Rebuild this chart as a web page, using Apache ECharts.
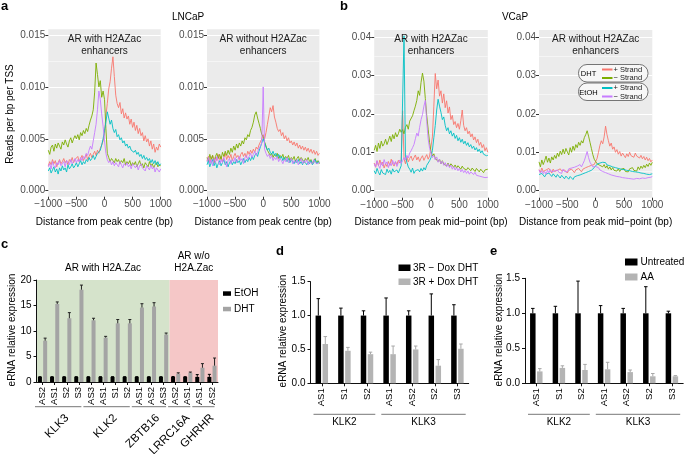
<!DOCTYPE html>
<html><head><meta charset="utf-8">
<script src="https://cdn.jsdelivr.net/npm/echarts@6/dist/echarts.min.js"></script>
<style>html,body{margin:0;padding:0;background:#fff}#c{width:685px;height:454px}</style>
</head><body><div id="c"></div>
<script>
// ---------- DATA (line panels: reads per bp per TSS, in units of 1e-3) ----------
const distance = [
-1000,-975,-950,-925,-900,-875,-850,-825,-800,-775,
-750,-725,-700,-675,-650,-625,-600,-575,-550,-525,
-500,-475,-450,-425,-400,-375,-350,-325,-300,-275,
-250,-225,-200,-175,-150,-125,-100,-75,-50,-25,
0,25,50,75,100,125,150,175,200,225,
250,275,300,325,350,375,400,425,450,475,
500,525,550,575,600,625,650,675,700,725,
750,775,800,825,850,875,900,925,950,975,
1000];
const xTicks = [-1000,-500,0,500,1000];

// LNCaP, AR with H2AZac enhancers
const lncapWithDhtPlus = [
2.4,2.8,2.5,3.0,2.6,2.9,2.3,2.7,3.0,2.6,
2.8,3.1,2.7,2.9,2.5,3.0,2.8,3.2,2.7,3.0,
2.9,3.3,2.8,3.1,3.4,2.9,3.2,3.5,3.0,3.3,
3.6,3.2,3.5,3.8,3.4,3.9,3.6,4.1,4.4,4.8,
5.5,7.2,8.4,9.8,10.5,11.8,12.9,11.0,9.2,8.4,
8.0,8.5,7.4,7.9,7.0,7.5,6.9,7.2,6.4,6.9,
6.1,6.6,5.8,6.3,5.5,6.0,5.3,5.6,4.8,5.3,
4.7,5.0,4.3,4.8,4.0,4.5,3.7,4.2,3.9,4.5,
4.2];
const lncapWithDhtMinus = [
3.9,3.5,4.2,4.4,3.8,4.5,4.1,4.6,4.3,4.0,
4.7,4.4,4.9,4.5,4.2,4.8,5.1,4.6,5.0,5.3,
5.0,5.4,4.9,5.6,5.3,5.8,5.5,6.0,5.7,6.3,
6.8,7.2,7.8,9.5,12.3,11.2,10.0,10.6,9.0,9.6,
8.8,6.0,3.6,3.2,2.8,3.1,2.9,2.7,3.1,2.8,
3.0,2.6,2.9,2.7,3.1,2.5,2.8,2.6,2.9,2.4,
2.7,2.5,2.8,2.3,2.6,2.9,2.4,2.6,2.2,2.7,
2.5,2.3,2.8,2.4,2.6,2.2,2.5,2.7,2.3,2.5,
2.4];
const lncapWithEtohPlus = [
1.9,2.2,1.7,2.0,2.3,1.8,2.1,1.6,2.2,1.9,
2.4,2.0,2.2,1.8,2.5,2.1,2.3,2.6,2.2,2.4,
2.7,2.3,2.6,2.9,2.5,2.8,2.6,3.0,2.8,3.2,
2.9,3.1,3.4,3.0,3.3,3.6,3.5,3.9,4.4,5.0,
5.8,6.6,7.6,7.0,6.4,6.8,6.0,5.6,5.9,5.2,
5.4,4.9,5.1,4.6,4.8,4.3,4.5,4.1,4.3,3.9,
4.0,3.7,3.9,3.5,3.7,3.3,3.5,3.1,3.4,3.0,
3.2,2.9,3.1,2.7,3.0,2.6,2.9,2.5,2.8,2.4,
2.6];
const lncapWithEtohMinus = [
2.3,2.6,2.1,2.8,2.4,2.2,2.7,2.5,2.9,2.4,
2.6,2.8,2.3,2.9,2.7,2.5,3.0,2.6,2.8,3.1,
2.7,3.0,2.8,3.2,2.9,3.3,3.1,3.6,3.4,3.9,
4.3,4.0,4.8,5.6,6.4,7.8,9.6,8.8,7.4,6.2,
4.8,3.6,3.0,2.7,2.9,2.5,2.8,2.4,2.7,2.6,
2.3,2.8,2.5,2.2,2.6,2.4,2.7,2.3,2.5,2.1,
2.6,2.4,2.2,2.5,2.0,2.4,2.6,2.2,2.3,1.9,
2.4,2.2,2.0,2.5,2.1,2.3,1.8,2.2,2.0,1.8,
2.1];

// LNCaP, AR without H2AZac enhancers
const lncapWithoutDhtPlus = [
2.9,3.3,2.7,3.1,3.4,2.8,3.2,2.9,3.5,3.0,
3.3,2.8,3.2,3.6,3.0,3.4,3.1,3.5,2.9,3.3,
3.6,3.2,3.4,3.0,3.5,3.7,3.3,3.6,3.2,3.8,
3.5,3.9,3.6,4.0,3.7,4.2,4.0,4.4,4.7,5.0,
5.4,5.0,5.6,6.4,7.2,8.0,7.6,8.2,7.1,6.6,
6.0,5.7,5.9,5.3,5.6,5.0,5.3,4.8,5.1,4.6,
4.8,4.4,4.7,4.3,4.6,4.1,4.4,4.0,4.3,3.9,
4.2,3.8,4.1,3.7,4.0,3.6,3.9,3.5,3.8,3.4,
3.6];
const lncapWithoutDhtMinus = [
3.2,2.8,3.5,3.0,3.4,2.7,3.3,3.6,3.1,3.5,
3.0,3.7,3.3,3.8,3.4,3.9,3.5,4.1,3.7,4.3,
3.9,4.5,4.1,4.6,4.3,4.8,4.5,5.1,4.9,5.4,
5.2,5.8,6.1,6.6,7.3,7.6,7.0,6.5,6.0,5.4,
5.2,4.7,4.3,3.9,3.8,3.4,3.6,3.2,3.5,3.3,
3.6,3.1,3.4,3.2,3.5,3.0,3.3,3.1,3.4,2.9,
3.2,3.0,3.3,2.8,3.1,3.3,2.9,3.2,3.0,2.7,
3.1,2.9,3.2,2.8,3.0,2.6,2.9,3.1,2.7,2.9,
2.6];
const lncapWithoutEtohPlus = [
2.5,2.9,2.3,2.7,3.0,2.4,2.8,2.2,2.6,2.9,
2.4,2.7,3.0,2.5,2.8,2.3,2.7,2.9,2.5,2.8,
2.6,3.0,2.7,2.9,2.5,2.8,3.1,2.7,3.0,2.8,
3.2,2.9,3.3,3.0,3.4,3.6,3.3,3.8,4.2,4.6,
5.0,4.6,4.2,3.9,4.1,3.7,3.5,3.8,3.4,3.6,
3.2,3.5,3.1,3.3,2.9,3.2,3.0,2.8,3.1,2.7,
3.0,2.8,2.6,2.9,2.7,3.0,2.6,2.8,2.5,2.9,
2.7,2.5,2.8,2.6,2.9,2.5,2.7,3.0,2.6,2.8,
2.7];
const lncapWithoutEtohMinus = [
2.8,3.2,2.6,3.0,2.4,3.1,2.7,3.3,2.9,2.5,
3.0,2.7,3.2,2.8,2.3,2.9,3.1,2.6,3.0,2.8,
3.2,2.7,3.0,3.3,2.9,3.1,2.6,3.2,3.4,3.0,
3.3,3.6,3.2,3.5,3.8,3.4,3.7,4.1,4.3,4.6,
10.0,4.0,3.6,3.3,3.5,3.1,3.4,2.9,3.2,3.0,
3.3,2.8,3.1,2.9,2.6,3.0,2.8,3.2,2.7,2.9,
3.1,2.6,2.9,2.7,3.0,2.5,2.8,3.1,2.6,2.9,
2.7,3.0,2.5,2.8,2.9,2.6,3.0,2.7,2.8,2.6,
2.8];

// VCaP, AR with H2AZac enhancers
const vcapWithDhtPlus = [
7.2,6.1,7.8,6.5,8.0,6.8,7.4,5.9,7.0,6.3,
7.6,6.6,8.2,7.0,6.4,7.5,6.8,7.9,7.2,8.0,
20.8,8.3,7.0,8.8,7.5,8.4,9.0,7.8,8.6,9.3,
8.0,8.8,7.6,8.5,9.1,7.9,8.7,9.4,8.2,9.0,
9.5,14.0,22.0,30.5,26.5,28.8,24.6,26.0,22.8,25.2,
21.6,23.4,20.2,21.8,18.5,19.6,17.2,18.0,16.4,17.5,
16.0,18.2,21.0,17.0,15.6,16.4,14.8,15.5,14.0,14.8,
13.2,14.0,12.5,13.4,11.8,12.6,11.2,12.0,10.4,11.2,
10.0];
const vcapWithDhtMinus = [
10.5,11.8,10.2,12.4,11.0,12.9,11.6,12.2,13.4,12.0,
13.0,14.2,12.8,14.6,13.5,15.1,14.0,14.8,16.0,15.2,
15.9,14.8,16.5,17.2,16.0,18.1,18.0,19.5,20.8,22.0,
23.5,26.0,24.8,28.2,30.6,28.5,24.0,19.5,16.0,12.5,
10.2,9.0,9.6,8.4,8.9,7.6,8.2,7.0,7.8,6.9,
7.4,6.5,7.2,6.3,7.0,6.8,6.1,6.7,5.9,6.5,
6.2,5.6,6.4,5.8,6.1,5.4,6.0,5.7,5.2,5.9,
5.5,5.0,5.8,5.3,4.9,5.6,5.1,4.7,5.4,5.0,
5.6];
const vcapWithEtohPlus = [
5.2,4.4,5.8,4.8,4.1,5.5,4.6,5.0,4.2,5.6,
4.7,5.3,4.3,5.7,4.9,4.4,5.4,4.6,5.1,6.5,
6.0,40.3,9.0,7.4,6.2,5.6,4.8,5.9,4.5,5.2,
4.7,5.5,4.9,5.8,5.1,6.0,5.4,6.6,7.0,7.8,
8.6,10.5,13.8,17.0,21.0,23.8,22.0,20.4,18.5,19.2,
17.0,15.6,16.4,14.8,15.6,14.2,15.0,13.6,14.4,13.0,
13.8,12.6,13.4,12.2,12.9,11.8,12.5,11.4,12.0,11.0,
11.6,10.6,11.2,10.2,10.8,9.8,10.4,9.5,10.0,9.1,
9.2];
const vcapWithEtohMinus = [
7.0,6.2,7.8,6.6,5.8,7.4,6.4,8.1,6.9,7.5,
6.0,7.2,6.5,7.9,6.8,7.6,6.3,7.3,8.0,7.1,
7.8,8.6,8.0,9.2,8.5,9.8,10.4,11.2,12.0,13.5,
15.0,14.2,16.5,18.5,19.8,22.0,23.5,18.0,13.5,11.0,
9.8,8.6,9.2,8.0,8.8,7.4,8.2,7.0,7.7,6.6,
7.3,6.2,7.0,6.0,6.6,5.6,6.3,5.4,6.0,5.2,
5.8,4.9,5.5,4.7,5.3,4.5,5.1,4.3,4.9,4.6,
4.2,4.8,4.0,4.5,3.8,4.3,3.6,4.1,3.4,3.9,
3.5];

// VCaP, AR without H2AZac enhancers
const vcapWithoutDhtPlus = [
5.5,4.8,5.9,5.0,4.5,5.4,4.9,5.8,5.2,4.6,
5.6,5.0,4.7,5.3,4.9,5.7,5.1,4.8,5.4,5.0,
4.6,5.3,4.9,5.6,5.1,4.7,5.4,5.0,5.8,5.3,
4.9,5.6,5.2,6.0,5.5,6.3,5.8,6.6,6.2,6.8,
7.2,8.4,10.0,11.8,13.0,12.2,14.0,16.8,14.6,13.0,
11.6,12.4,10.8,11.4,10.0,10.7,9.5,10.2,9.0,9.8,
9.2,8.6,9.6,8.9,10.0,9.1,9.5,8.7,9.8,9.0,
9.4,8.5,9.2,8.3,8.9,8.0,8.7,7.8,8.4,7.5,
8.0];
const vcapWithoutDhtMinus = [
7.5,6.2,8.0,6.8,7.8,9.0,7.4,8.5,7.2,8.8,
8.0,9.2,8.4,9.8,8.9,10.3,9.4,10.8,9.6,11.0,
10.1,9.3,11.2,10.0,11.6,10.5,12.0,11.2,12.6,11.8,
13.0,12.4,13.8,14.6,15.6,14.2,12.6,11.0,9.4,8.2,
7.6,7.0,7.4,6.6,7.1,6.2,6.8,5.9,6.5,5.6,
6.2,5.4,6.0,5.3,5.8,5.1,5.7,5.0,5.6,5.2,
5.8,5.0,5.5,4.9,5.7,5.2,6.0,5.3,5.8,5.1,
6.2,5.5,6.4,5.8,6.6,6.0,6.9,6.3,7.2,6.6,
7.4];
const vcapWithoutEtohPlus = [
4.2,3.8,4.5,4.0,3.6,4.3,3.9,4.6,4.1,3.7,
4.4,3.9,3.5,4.2,3.7,3.3,4.0,3.5,3.1,3.8,
3.4,3.0,3.7,3.2,2.9,3.6,3.3,3.9,3.5,4.1,
3.8,4.4,4.0,4.7,4.3,5.0,4.6,5.3,5.6,6.0,
6.4,6.9,6.5,7.2,6.8,7.4,6.9,7.3,6.7,7.0,
6.5,6.8,6.2,6.6,6.0,6.4,5.8,6.2,5.6,6.0,
5.5,5.9,5.3,5.7,5.2,5.6,5.0,5.5,4.9,5.3,
4.8,5.2,4.6,5.0,4.5,4.9,4.3,4.7,4.2,4.6,
4.4];
const vcapWithoutEtohMinus = [
5.4,4.6,5.2,4.4,5.0,4.3,5.3,4.7,5.5,4.9,
4.5,5.1,4.6,5.4,4.8,5.2,4.5,5.6,5.0,5.4,
4.9,5.7,5.2,5.9,5.4,6.1,5.6,6.4,5.9,6.8,
6.2,7.0,7.8,9.0,10.2,8.6,7.4,6.8,6.2,5.9,
6.3,5.8,6.0,5.4,5.7,5.0,5.3,4.7,5.0,4.4,
4.7,4.1,4.5,3.9,4.3,3.7,4.2,3.6,4.0,3.4,
3.9,3.3,3.7,3.2,3.6,3.1,3.5,3.0,3.4,3.2,
3.6,3.1,3.5,3.3,3.7,3.2,3.6,3.4,3.8,3.5,
3.7];

const strandLabels = ['+ Strand','\u2212 Strand'];

// ---------- DATA (bar panels) ----------
const cCategories = ['AS2','AS1','S2','S3','AS3','AS1','S1','S2','AS1','AS2','AS3','AS2','AS1','AS1','AS2'];
const cGenes = ['KLK3','KLK2','ZBTB16','LRRC16A','GHRHR'];
const cGeneSizes = [4,4,3,2,2];
const cEtoh = [1,1,1,1,1,1,1,1,1,1,1,1,1,1,1];
const cEtohErr = [0.05,0.05,0.05,0.05,0.05,0.05,0.05,0.05,0.05,0.05,0.05,0.08,0.05,0.45,0.5];
const cDht = [8.1,15.3,12.5,18.1,12.1,8.7,11.5,11.5,14.6,14.8,9.3,1.6,1.8,2.8,3.2];
const cDhtErr = [0.5,0.4,1.1,0.9,0.4,0.25,0.75,0.75,0.75,0.75,0.3,0.2,0.15,0.8,1.5];

const deCategories = ['AS1','S1','S2','AS1','AS2','S2','S3'];
const deGenes = ['KLK2','KLK3'];
const deGeneSizes = [3,4];
const dMinusDox = [1,1,1,1,1,1,1];
const dMinusDoxErr = [0.25,0.11,0.07,0.26,0.07,0.32,0.16];
const dPlusDox = [0.58,0.48,0.43,0.43,0.50,0.26,0.51];
const dPlusDoxErr = [0.11,0.05,0.03,0.12,0.05,0.09,0.07];
const eUntreated = [1,1,1,1,1,1,1];
const eUntreatedErr = [0.07,0.10,0.46,0.11,0.07,0.38,0.03];
const eAA = [0.17,0.22,0.19,0.20,0.16,0.10,0.10];
const eAAErr = [0.04,0.03,0.08,0.10,0.03,0.04,0.01];

// ---------- BUILD ----------
const FONT = "'Liberation Sans', Arial, Helvetica, sans-serif";
const LINE_COLORS = ['#F8766D','#7CAE00','#00BFC4','#C77CFF'];
const grids = [], xAxes = [], yAxes = [], series = [], graphics = [];

function txt(text, x, y, opt) {
  opt = opt || {};
  graphics.push({type:'text', x:x, y:y, rotation:opt.rot || 0, z:10,
    style:{text:text, fill:opt.color || '#000', font:(opt.bold ? 'bold ' : '') + (opt.size || 10) + 'px ' + FONT,
      textAlign:opt.align || 'center', textVerticalAlign:opt.valign || 'middle'}});
}
function rect(x, y, w, h, fill, z) {
  graphics.push({type:'rect', z:(z === undefined ? -1 : z), shape:{x:x, y:y, width:w, height:h}, style:{fill:fill}});
}
function hline(x1, x2, y, color) {
  graphics.push({type:'line', z:10, shape:{x1:x1, y1:y, x2:x2, y2:y}, style:{stroke:color, lineWidth:1}});
}

const linePanels = [
  {box:{left:48.3, top:35, width:112.4, height:155.7}, max:0.015, interval:0.005, digits:3, padTop:5.7, padBottom:6,
   data:[lncapWithDhtPlus, lncapWithDhtMinus, lncapWithEtohPlus, lncapWithEtohMinus], title:['AR with H2AZac','enhancers'], xTitle:'Distance from peak centre (bp)'},
  {box:{left:207, top:35, width:112.4, height:155.7}, max:0.015, interval:0.005, digits:3, padTop:5.7, padBottom:6,
   data:[lncapWithoutDhtPlus, lncapWithoutDhtMinus, lncapWithoutEtohPlus, lncapWithoutEtohMinus], title:['AR without H2AZac','enhancers'], xTitle:'Distance from peak centre (bp)'},
  {box:{left:374.2, top:37, width:113.6, height:153.7}, max:0.04, interval:0.01, digits:2, padTop:7, padBottom:7,
   data:[vcapWithDhtPlus, vcapWithDhtMinus, vcapWithEtohPlus, vcapWithEtohMinus], title:['AR with H2AZac','enhancers'], xTitle:'Distance from peak mid\u2212point (bp)'},
  {box:{left:539, top:37, width:113.3, height:153.7}, max:0.04, interval:0.01, digits:2, padTop:7, padBottom:7,
   data:[vcapWithoutDhtPlus, vcapWithoutDhtMinus, vcapWithoutEtohPlus, vcapWithoutEtohMinus], title:['AR without H2AZac','enhancers'], xTitle:'Distance from peak mid\u2212point (bp)'}
];

linePanels.forEach((p, k) => {
  const b = p.box;
  grids.push({left:b.left, top:b.top, width:b.width, height:b.height});
  rect(b.left, b.top - p.padTop, b.width, b.height + p.padTop + p.padBottom, '#EBEBEB', -1);
  xAxes.push({type:'value', gridIndex:k, position:'bottom', min:xTicks[0], max:xTicks[xTicks.length-1], interval:xTicks[1]-xTicks[0], offset:p.padBottom,
    axisLine:{show:false, onZero:false}, axisTick:{show:true, length:3, lineStyle:{color:'#333', width:1}},
    axisLabel:{color:'#4D4D4D', fontSize:10, fontFamily:FONT, margin:3, formatter:v => v < 0 ? '\u2212' + Math.abs(v) : String(v)},
    splitLine:{show:false}});
  yAxes.push({type:'value', gridIndex:k, position:'left', min:0, max:p.max, interval:p.interval,
    axisLine:{show:false, onZero:false}, axisTick:{show:true, length:3, lineStyle:{color:'#333', width:1}},
    axisLabel:{color:'#4D4D4D', fontSize:10, fontFamily:FONT, margin:3, formatter:v => v.toFixed(p.digits)},
    splitLine:{show:true, lineStyle:{color:'#FFFFFF', width:1}},
    minorTick:{show:false, splitNumber:2}, minorSplitLine:{show:true, lineStyle:{color:'#FFFFFF', width:0.5}}});
  p.data.forEach((arr, j) => {
    series.push({type:'line', xAxisIndex:k, yAxisIndex:k, data:distance.map((d, i) => [d, arr[i] / 1000]),
      showSymbol:false, symbol:'none', clip:false, silent:true, animation:false, z:2 + j,
      lineStyle:{color:LINE_COLORS[j], width:0.9}, itemStyle:{color:LINE_COLORS[j]}});
  });
  const cx = b.left + b.width / 2;
  txt(p.title[0], cx, 39, {color:'#1A1A1A'});
  txt(p.title[1], cx, 51, {color:'#1A1A1A'});
  txt(p.xTitle, cx, 222, {color:'#000'});
});

// Line-panel annotations
txt('a', 1, 6, {bold:true, size:13, align:'left'});
txt('b', 340, 6, {bold:true, size:13, align:'left'});
txt('LNCaP', 188, 17);
txt('VCaP', 515, 17);
txt('Reads per bp per TSS', 10, 114, {rot:Math.PI / 2});

// Legend in VCaP "without" panel
[['DHT', 64.5], ['EtOH', 83]].forEach((g, gi) => {
  graphics.push({type:'rect', z:8, shape:{x:578.5, y:g[1], width:69.5, height:17.5, r:8.5},
    style:{fill:'#F7F7F7', stroke:'#555', lineWidth:0.8}});
  txt(g[0], 588.5, g[1] + 9.5, {size:7.5});
  [0, 1].forEach(si => {
    const yy = g[1] + 5 + si * 8.5;
    graphics.push({type:'line', z:10, shape:{x1:602, y1:yy, x2:612.5, y2:yy}, style:{stroke:LINE_COLORS[gi * 2 + si], lineWidth:2}});
    txt(strandLabels[si], 613.5, yy, {size:7.5, align:'left', color:'#1A1A1A'});
  });
});

// ---------- BAR PANELS ----------
function errRender(offset, cap, color) {
  return function (params, api) {
    const i = api.value(0), v = api.value(1), e = api.value(2);
    const p0 = api.coord([i, v]), p1 = api.coord([i, v + e]);
    const x = p0[0] + offset;
    return {type:'group', children:[
      {type:'line', shape:{x1:x, y1:p0[1], x2:x, y2:p1[1]}, style:{stroke:color, lineWidth:1}},
      {type:'line', shape:{x1:x - cap / 2, y1:p1[1], x2:x + cap / 2, y2:p1[1]}, style:{stroke:color, lineWidth:1}}
    ]};
  };
}

const barPanels = [
  {box:{left:36.5, top:280, width:181.5, height:102}, cats:cCategories, max:20, interval:5, digits:0,
   a:cEtoh, aErr:cEtohErr, b:cDht, bErr:cDhtErr, bColor:'#A4A4A4', bErrColor:'#222',
   barWidth:4, barGap:'30%', off:2.6, cap:3},
  {box:{left:310.5, top:281.7, width:158.2, height:101.6}, cats:deCategories, max:1.5, interval:0.5, digits:1,
   a:dMinusDox, aErr:dMinusDoxErr, b:dPlusDox, bErr:dPlusDoxErr, bColor:'#B4B4B4', bErrColor:'#A8A8A8',
   barWidth:5.5, barGap:'27%', off:3.5, cap:3.5},
  {box:{left:525, top:278.3, width:158.2, height:105}, cats:deCategories, max:1.5, interval:0.5, digits:1,
   a:eUntreated, aErr:eUntreatedErr, b:eAA, bErr:eAAErr, bColor:'#B4B4B4', bErrColor:'#A8A8A8',
   barWidth:5.5, barGap:'27%', off:3.5, cap:3.5}
];

barPanels.forEach((p, n) => {
  const k = linePanels.length + n;
  const b = p.box;
  grids.push({left:b.left, top:b.top, width:b.width, height:b.height});
  xAxes.push({type:'category', gridIndex:k, position:'bottom', data:p.cats,
    axisLine:{show:true, onZero:false, lineStyle:{color:'#111', width:1}},
    axisTick:{show:true, alignWithLabel:true, length:3, lineStyle:{color:'#111'}},
    axisLabel:{rotate:90, interval:0, fontSize:9.5, color:'#000', fontFamily:FONT, margin:5},
    splitLine:{show:false}});
  yAxes.push({type:'value', gridIndex:k, position:'left', min:0, max:p.max, interval:p.interval,
    axisLine:{show:true, onZero:false, lineStyle:{color:'#111', width:1}},
    axisTick:{show:true, length:3, lineStyle:{color:'#111'}},
    axisLabel:{fontSize:10, color:'#000', fontFamily:FONT, margin:5, formatter:v => v.toFixed(p.digits)},
    splitLine:{show:false}});
  series.push({type:'bar', xAxisIndex:k, yAxisIndex:k, data:p.a, barWidth:p.barWidth, barGap:p.barGap,
    itemStyle:{color:'#000'}, silent:true, animation:false, z:3});
  series.push({type:'bar', xAxisIndex:k, yAxisIndex:k, data:p.b, barWidth:p.barWidth, barGap:p.barGap,
    itemStyle:{color:p.bColor}, silent:true, animation:false, z:3});
  series.push({type:'custom', xAxisIndex:k, yAxisIndex:k, data:p.a.map((v, i) => [i, v, p.aErr[i]]),
    encode:{x:0, y:1}, renderItem:errRender(-p.off, p.cap, '#000'), silent:true, animation:false, clip:false, z:4});
  series.push({type:'custom', xAxisIndex:k, yAxisIndex:k, data:p.b.map((v, i) => [i, v, p.bErr[i]]),
    encode:{x:0, y:1}, renderItem:errRender(p.off, p.cap, p.bErrColor), silent:true, animation:false, clip:false, z:4});
});

// Panel c background regions & annotations
{
  const b = barPanels[0].box, w = b.width / cCategories.length;
  const withCount = cGeneSizes.slice(0, 3).reduce((s, v) => s + v, 0);
  rect(b.left, b.top, w * withCount, b.height, '#D5E3CB', -1);
  rect(b.left + w * withCount, b.top, b.width - w * withCount, b.height, '#F5C7C7', -1);
  let start = 0;
  cGenes.forEach((g, gi) => {
    const end = start + cGeneSizes[gi];
    const x1 = b.left + start * w - 1.5, x2 = b.left + end * w - 3.5;
    hline(x1, x2, 406.7, '#777');
    txt(g, b.left + (start + end) / 2 * w + 2, 412, {rot:Math.PI / 4, align:'right', valign:'top', size:11.5});
    start = end;
  });
  txt('AR with H2A.Zac', b.left + w * withCount / 2, 268.5);
  txt('AR w/o', b.left + w * withCount + (b.width - w * withCount) / 2, 256.5);
  txt('H2A.Zac', b.left + w * withCount + (b.width - w * withCount) / 2, 268.5);
  txt('c', 1, 244, {bold:true, size:13, align:'left'});
  txt('eRNA relative expression', 12, 330, {rot:Math.PI / 2});
  rect(223, 291.3, 8, 4.5, '#000', 10);
  rect(223, 306.8, 8, 4.5, '#A4A4A4', 10);
  txt('EtOH', 234, 293.5, {align:'left'});
  txt('DHT', 234, 309, {align:'left'});
}
// Panels d, e annotations
[1, 2].forEach(n => {
  const b = barPanels[n].box, w = b.width / deCategories.length;
  let start = 0;
  deGenes.forEach((g, gi) => {
    const end = start + deGeneSizes[gi];
    const x1 = b.left + start * w + 3, x2 = b.left + end * w - 3;
    hline(x1, x2, 414.3, '#777');
    txt(g, (x1 + x2) / 2, 422.5);
    start = end;
  });
});
txt('d', 276, 251, {bold:true, size:13, align:'left'});
txt('eRNA relative expression', 283.5, 331, {rot:Math.PI / 2});
rect(398.5, 264.5, 12, 6.5, '#000', 10);
rect(398.5, 278.5, 12, 6.5, '#B4B4B4', 10);
txt('3R \u2212 Dox DHT', 413, 268, {align:'left'});
txt('3R + Dox DHT', 413, 282, {align:'left'});

txt('e', 490, 251, {bold:true, size:13, align:'left'});
txt('eRNA relative expression', 499, 330, {rot:Math.PI / 2});
rect(625, 258.5, 12.5, 7, '#000', 10);
rect(625, 273.5, 12.5, 7, '#B4B4B4', 10);
txt('Untreated', 640.5, 262, {align:'left'});
txt('AA', 640.5, 277, {align:'left'});

const chart = echarts.init(document.getElementById('c'), null, {renderer:'canvas'});
chart.setOption({
  animation:false,
  backgroundColor:'#FFFFFF',
  textStyle:{fontFamily:FONT},
  grid:grids, xAxis:xAxes, yAxis:yAxes, series:series, graphic:graphics
});
</script></body></html>
